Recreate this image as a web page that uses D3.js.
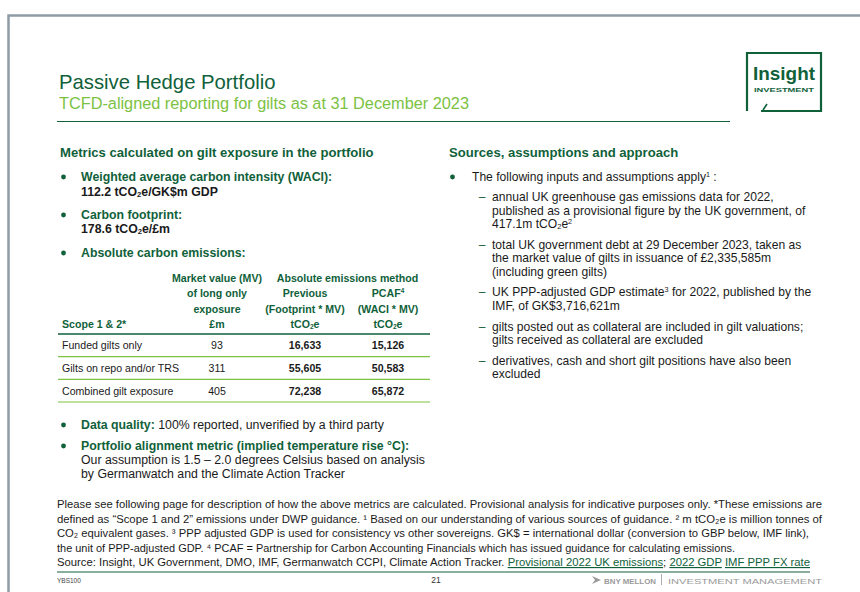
<!DOCTYPE html>
<html>
<head>
<meta charset="utf-8">
<script src="https://cdn.jsdelivr.net/npm/d3@7"></script>
<style>
  body { margin: 0; background: #fff; }
  svg { display: block; font-family: "Liberation Sans", Arial, sans-serif; }
</style>
</head>
<body>
<svg class="page"></svg>
<script>
// ---- data ----
var waciValue = 112.2;
var footprintValue = 178.6;
var scopeRows = ["Funded gilts only", "Gilts on repo and/or TRS", "Combined gilt exposure"];
var marketValue = [93, 311, 405];
var previousEmissions = [16633, 55605, 72238];
var pcafEmissions = [15126, 50583, 65872];
var columnKeys = ["mv", "prev", "pcaf"];
var columnHeaders = [
    ["Market value (MV)", "of long only", "exposure", "£m"],
    ["Previous", "(Footprint * MV)", "tCO_2e"],
    ["PCAF^4", "(WACI * MV)", "tCO_2e"]
];
var spanHeader = "Absolute emissions method";
var rowHeader = "Scope 1 & 2*";

var sourceItems = [
    ["annual UK greenhouse gas emissions data for 2022,",
     "published as a provisional figure by the UK government, of",
     "417.1m tCO_2e^2"],
    ["total UK government debt at 29 December 2023, taken as",
     "the market value of gilts in issuance of £2,335,585m",
     "(including green gilts)"],
    ["UK PPP-adjusted GDP estimate^3 for 2022, published by the",
     "IMF, of GK$3,716,621m"],
    ["gilts posted out as collateral are included in gilt valuations;",
     "gilts received as collateral are excluded"],
    ["derivatives, cash and short gilt positions have also been",
     "excluded"]
];

var footerLines = [
    "Please see following page for description of how the above metrics are calculated. Provisional analysis for indicative purposes only. *These emissions are",
    "defined as \u201cScope 1 and 2\u201d emissions under DWP guidance. \u00b9 Based on our understanding of various sources of guidance. \u00b2 m tCO\u2082e is million tonnes of",
    "CO\u2082 equivalent gases. \u00b3 PPP adjusted GDP is used for consistency vs other sovereigns. GK$ = international dollar (conversion to GBP below, IMF link),",
    "the unit of PPP-adjusted GDP. \u2074 PCAF = Partnership for Carbon Accounting Financials which has issued guidance for calculating emissions."
];
var footerWidths = [765, 765, 752, 678];
var sourceText = "Source: Insight, UK Government, DMO, IMF, Germanwatch CCPI, Climate Action Tracker. ";
var sourceLinks = ["Provisional 2022 UK emissions", "2022 GDP", "IMF PPP FX rate"];

// ---- styles ----
var darkGreen = "#10613a",
    lightGreen = "#7cc242",
    ink = "#1a1a1a",
    greyRule = "#8f9ca6";

var width = 860, height = 592;
var svg = d3.select(".page").attr("width", width).attr("height", height);
svg.append("rect").attr("width", width).attr("height", height).attr("fill", "#fff");

// split "tCO_2e^2" style strings into plain / sub / sup pieces
function parse(str) {
    return str.split(/(_\w|\^\w)/).filter(function (s) { return s !== ""; }).map(function (s) {
        if (s[0] === "_" && s.length === 2) return { t: s[1], sub: true };
        if (s[0] === "^" && s.length === 2) return { t: s[1], sup: true };
        return { t: s };
    });
}

function rich(sel, x, y, parts, size, opts) {
    opts = opts || {};
    var t = sel.append("text")
        .attr("x", x).attr("y", y)
        .attr("font-size", size)
        .attr("fill", opts.fill || ink)
        .attr("font-weight", opts.bold ? "bold" : null)
        .attr("text-anchor", opts.anchor || "start");
    parts.forEach(function (p) {
        var ts = t.append("tspan").text(p.t);
        if (p.b) ts.attr("font-weight", "bold");
        if (p.c) ts.attr("fill", p.c);
        if (p.sup) ts.attr("font-size", size * 0.6).attr("baseline-shift", (size * 0.36).toFixed(1));
        if (p.sub) ts.attr("font-size", size * 0.62).attr("baseline-shift", (-size * 0.08).toFixed(1));
        if (p.u) ts.attr("text-decoration", "underline");
    });
    if (opts.len) t.attr("textLength", opts.len).attr("lengthAdjust", "spacingAndGlyphs");
    return t;
}

// ---- page frame ----
svg.append("path")
    .attr("d", "M8.5," + height + "V15.5H" + width)
    .attr("fill", "none").attr("stroke", greyRule).attr("stroke-width", 2.5);

// ---- title ----
svg.append("text").attr("x", 59).attr("y", 89).attr("font-size", 20.3)
    .attr("fill", darkGreen).text("Passive Hedge Portfolio");
svg.append("text").attr("x", 59).attr("y", 109).attr("font-size", 16.3)
    .attr("fill", lightGreen).text("TCFD-aligned reporting for gilts as at 31 December 2023");
svg.append("line").attr("x1", 57).attr("x2", 730).attr("y1", 121.5).attr("y2", 121.5)
    .attr("stroke", darkGreen).attr("stroke-width", 1.2);

// Insight logo
var logo = svg.append("g");
logo.append("path")
    .attr("d", "M761,111H821V53H747V111")
    .attr("fill", "none").attr("stroke", darkGreen).attr("stroke-width", 2.2);
logo.append("path").attr("d", "M763,110L767,104").attr("stroke", darkGreen).attr("stroke-width", 1.6);
logo.append("text").attr("x", 784).attr("y", 80).attr("text-anchor", "middle")
    .attr("font-size", 19).attr("font-weight", "bold").attr("fill", darkGreen)
    .attr("textLength", 62).attr("lengthAdjust", "spacingAndGlyphs").text("Insight");
logo.append("text").attr("x", 784).attr("y", 92).attr("text-anchor", "middle")
    .attr("font-size", 5.8).attr("font-weight", "bold").attr("fill", darkGreen)
    .attr("textLength", 60).attr("lengthAdjust", "spacingAndGlyphs").text("INVESTMENT");

// ---- left column ----
var left = svg.append("g");
left.append("text").attr("x", 60).attr("y", 157).attr("font-size", 13.1).attr("font-weight", "bold")
    .attr("fill", darkGreen).text("Metrics calculated on gilt exposure in the portfolio");

function bullet(g, x, y) {
    g.append("circle").attr("cx", x).attr("cy", y - 4).attr("r", 2.4).attr("fill", darkGreen);
}

var bx = 63.5, tx = 81, fs = 12.3;
bullet(left, bx, 181);
rich(left, tx, 181, [{ t: "Weighted average carbon intensity (WACI):" }], fs, { fill: darkGreen, bold: true });
rich(left, tx, 196, parse(waciValue + " tCO_2e/GK$m GDP"), fs, { bold: true });
bullet(left, bx, 219);
rich(left, tx, 219, [{ t: "Carbon footprint:" }], fs, { fill: darkGreen, bold: true });
rich(left, tx, 233, parse(footprintValue + " tCO_2e/£m"), fs, { bold: true });
bullet(left, bx, 257);
rich(left, tx, 257, [{ t: "Absolute carbon emissions:" }], fs, { fill: darkGreen, bold: true });

// ---- table ----
var table = svg.append("g");
var colX = d3.scaleOrdinal().domain(columnKeys).range([217, 305, 388]);
var rowY = d3.scaleBand().domain(scopeRows).range([334, 402]);
var fmt = d3.format(",");
var hs = 10.6, lineGap = 15.3, headBase = 328;

columnHeaders.forEach(function (lines, i) {
    lines.forEach(function (ln, j) {
        rich(table, colX(columnKeys[i]), headBase - (lines.length - 1 - j) * lineGap, parse(ln), hs,
            { fill: darkGreen, bold: true, anchor: "middle" });
    });
});
table.append("text").attr("x", (colX("prev") + colX("pcaf")) / 2 + 1).attr("y", headBase - 3 * lineGap)
    .attr("text-anchor", "middle").attr("font-size", hs).attr("font-weight", "bold")
    .attr("fill", darkGreen).text(spanHeader);
table.append("text").attr("x", 62).attr("y", headBase).attr("font-size", hs).attr("font-weight", "bold")
    .attr("fill", darkGreen).text(rowHeader);
table.append("line").attr("x1", 58).attr("x2", 430).attr("y1", 334).attr("y2", 334)
    .attr("stroke", darkGreen).attr("stroke-width", 1.3);

var rows = table.selectAll("g.row").data(scopeRows).enter().append("g").attr("class", "row");
rows.append("line")
    .attr("x1", 58).attr("x2", 430)
    .attr("y1", function (d) { return rowY(d) + rowY.bandwidth(); })
    .attr("y2", function (d) { return rowY(d) + rowY.bandwidth(); })
    .attr("stroke", lightGreen).attr("stroke-width", 1.2);
rows.append("text").attr("x", 62)
    .attr("y", function (d) { return rowY(d) + rowY.bandwidth() / 2 + 4; })
    .attr("font-size", hs).attr("fill", ink).text(function (d) { return d; });
rows.append("text").attr("x", colX("mv")).attr("text-anchor", "middle")
    .attr("y", function (d) { return rowY(d) + rowY.bandwidth() / 2 + 4; })
    .attr("font-size", hs).attr("fill", ink)
    .text(function (d, i) { return marketValue[i]; });
rows.append("text").attr("x", colX("prev")).attr("text-anchor", "middle")
    .attr("y", function (d) { return rowY(d) + rowY.bandwidth() / 2 + 4; })
    .attr("font-size", hs).attr("font-weight", "bold").attr("fill", ink)
    .text(function (d, i) { return fmt(previousEmissions[i]); });
rows.append("text").attr("x", colX("pcaf")).attr("text-anchor", "middle")
    .attr("y", function (d) { return rowY(d) + rowY.bandwidth() / 2 + 4; })
    .attr("font-size", hs).attr("font-weight", "bold").attr("fill", ink)
    .text(function (d, i) { return fmt(pcafEmissions[i]); });

// below-table bullets
bullet(left, bx, 429);
rich(left, tx, 429, [{ t: "Data quality: ", b: true, c: darkGreen }, { t: "100% reported, unverified by a third party" }], fs);
bullet(left, bx, 450);
rich(left, tx, 450, [{ t: "Portfolio alignment metric (implied temperature rise \u00b0C):" }], fs, { fill: darkGreen, bold: true });
rich(left, tx, 464, [{ t: "Our assumption is 1.5 \u2013 2.0 degrees Celsius based on analysis" }], fs);
rich(left, tx, 478, [{ t: "by Germanwatch and the Climate Action Tracker" }], fs);

// ---- right column ----
var right = svg.append("g");
right.append("text").attr("x", 449).attr("y", 157).attr("font-size", 13.1).attr("font-weight", "bold")
    .attr("fill", darkGreen).text("Sources, assumptions and approach");
bullet(right, 452.5, 181);
rich(right, 472, 181, parse("The following inputs and assumptions apply^1 :"), 12.1);

var y = 201;
sourceItems.forEach(function (lines) {
    right.append("text").attr("x", 482).attr("y", y).attr("font-size", 12.1)
        .attr("fill", darkGreen).attr("text-anchor", "middle").text("\u2013");
    lines.forEach(function (ln, j) {
        rich(right, 492, y + j * 13.6, parse(ln), 12.1);
    });
    y += (lines.length - 1) * 13.6 + 20.5;
});

// ---- footnotes ----
var foot = svg.append("g");
var fy = [508, 522.5, 537, 551.5];
footerLines.forEach(function (ln, i) {
    foot.append("text").attr("x", 57).attr("y", fy[i]).attr("font-size", 11.4).attr("fill", ink)
        .attr("textLength", footerWidths[i]).attr("lengthAdjust", "spacingAndGlyphs").text(ln);
});
rich(foot, 57, 566,
    [{ t: sourceText }, { t: sourceLinks[0], u: true, c: darkGreen }, { t: "; " },
     { t: sourceLinks[1], u: true, c: darkGreen }, { t: " " }, { t: sourceLinks[2], u: true, c: darkGreen }],
    11.4, { len: 753 });
foot.append("line").attr("x1", 57).attr("x2", 810).attr("y1", 572).attr("y2", 572)
    .attr("stroke", darkGreen).attr("stroke-width", 1.2);

foot.append("text").attr("x", 57).attr("y", 583).attr("font-size", 6.5).attr("fill", "#444").text("YBS100");
foot.append("text").attr("x", 436).attr("y", 583).attr("font-size", 8.5).attr("text-anchor", "middle")
    .attr("fill", "#333").text("21");

// BNY Mellon mark
var bny = foot.append("g").attr("fill", "#9a9a9a");
bny.append("path").attr("d", "M592,576L601,580L592,584L595,580Z");
bny.append("text").attr("x", 604).attr("y", 583.5).attr("font-size", 8).attr("font-weight", "bold")
    .attr("textLength", 52).attr("lengthAdjust", "spacingAndGlyphs").text("BNY MELLON");
bny.append("rect").attr("x", 661).attr("y", 574).attr("width", 0.8).attr("height", 11);
bny.append("text").attr("x", 668).attr("y", 583.5).attr("font-size", 8)
    .attr("textLength", 154).attr("lengthAdjust", "spacingAndGlyphs").text("INVESTMENT MANAGEMENT");
</script>
</body>
</html>
